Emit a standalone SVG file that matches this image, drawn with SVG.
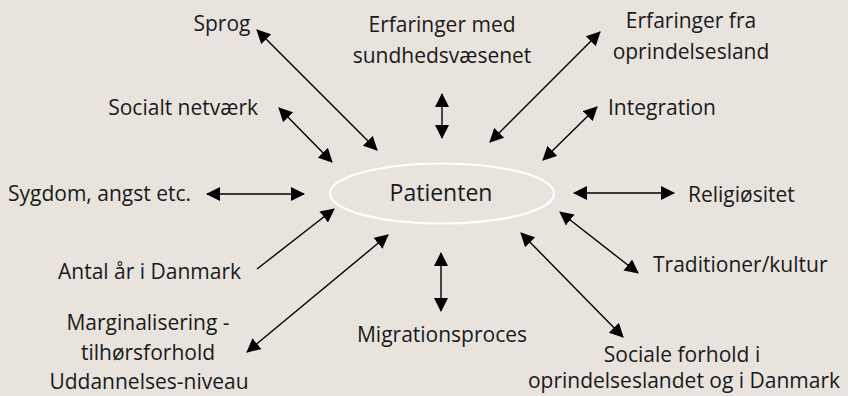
<svg xmlns="http://www.w3.org/2000/svg" width="848" height="396" viewBox="0 0 848 396">
<defs>
<marker id="ah" markerUnits="userSpaceOnUse" markerWidth="14" markerHeight="14" refX="13" refY="7" orient="auto-start-reverse" viewBox="0 0 14 14">
<path d="M0,0 L14,7 L0,14 z" fill="#000"/>
</marker>
<style>
text{font-family:"Open Sans","Lato","DejaVu Sans",sans-serif;font-size:21px;fill:#1a1a1a;text-anchor:middle}
.l{text-anchor:start}
.r{text-anchor:end}
.c line{stroke:#000;stroke-width:1.4}
.b{marker-start:url(#ah);marker-end:url(#ah)}
.e{marker-end:url(#ah)}
</style>
</defs>
<rect width="848" height="396" fill="#e8e3dd"/>
<g id="patienten">
<ellipse cx="442" cy="193.5" rx="112" ry="30" fill="none" stroke="#fff" stroke-width="2.2"/>
<text x="441" y="201" style="font-size:23px">Patienten</text>
</g>
<g id="sprog"><text x="222" y="31">Sprog</text></g>
<g id="erfaringer-med"><text x="442" y="32">Erfaringer med</text><text x="442" y="63">sundhedsvæsenet</text></g>
<g id="erfaringer-fra"><text x="691" y="28">Erfaringer fra</text><text x="691" y="59">oprindelsesland</text></g>
<g id="integration"><text class="l" x="608" y="115">Integration</text></g>
<g id="socialt"><text class="r" x="258" y="115">Socialt netværk</text></g>
<g id="sygdom"><text class="l" x="8" y="201">Sygdom, angst etc.</text></g>
<g id="religiositet"><text class="l" x="688" y="202">Religiøsitet</text></g>
<g id="antal"><text class="l" x="58" y="279">Antal år i Danmark</text></g>
<g id="traditioner"><text class="l" x="653" y="272">Traditioner/kultur</text></g>
<g id="marginalisering"><text x="148" y="330">Marginalisering -</text><text x="148" y="360">tilhørsforhold</text><text x="149" y="389">Uddannelses-niveau</text></g>
<g id="migration"><text x="442" y="342">Migrationsproces</text></g>
<g id="sociale"><text x="682" y="362">Sociale forhold i</text><text x="684" y="388">oprindelseslandet og i Danmark</text></g>
<g id="connectors" class="c">
<line class="b" x1="257" y1="30" x2="377" y2="150"/>
<line class="b" x1="279" y1="108" x2="332" y2="162"/>
<line class="b" x1="442" y1="94" x2="442" y2="138"/>
<line class="b" x1="600" y1="32" x2="490" y2="142"/>
<line class="b" x1="597" y1="107" x2="543" y2="160"/>
<line class="b" x1="207" y1="194" x2="304" y2="194"/>
<line class="b" x1="574" y1="193" x2="674" y2="193"/>
<line class="e" x1="257" y1="269" x2="334" y2="209"/>
<line class="b" x1="247" y1="352" x2="388" y2="235"/>
<line class="b" x1="441" y1="253" x2="441" y2="311"/>
<line class="b" x1="521" y1="233" x2="623" y2="337"/>
<line class="b" x1="560" y1="212" x2="638" y2="273"/>
</g>
</svg>
